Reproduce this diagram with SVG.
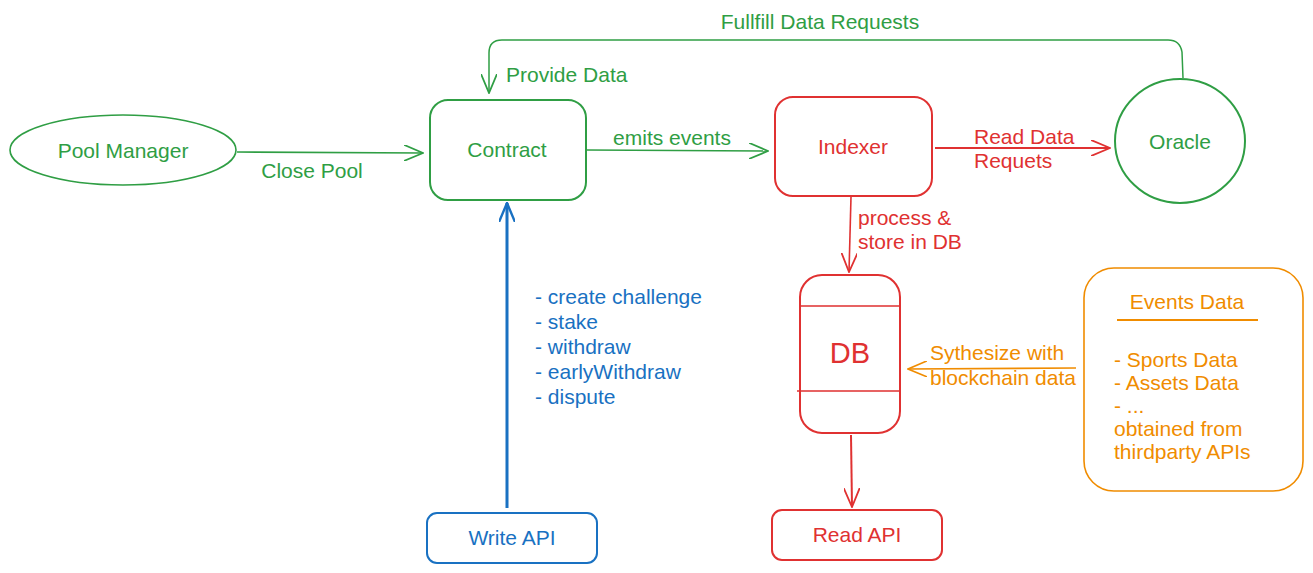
<svg xmlns="http://www.w3.org/2000/svg" width="1313" height="573" viewBox="0 0 1313 573">
<style>
text{font-family:"Liberation Sans",Arial,sans-serif;font-size:21px}
.g{fill:#2f9e44}.r{fill:#e03131}.b{fill:#1971c2}.o{fill:#f08c00}
.c{text-anchor:middle;dominant-baseline:central}
.sg{fill:none;stroke:#2f9e44;stroke-width:2}
.sr{fill:none;stroke:#e03131;stroke-width:2}
.sb{fill:none;stroke:#1971c2;stroke-width:2}
.so{fill:none;stroke:#f08c00;stroke-width:1.6}
</style>
<defs>
<marker id="ag" viewBox="0 0 20 16" refX="19" refY="8" markerWidth="20" markerHeight="16" markerUnits="userSpaceOnUse" orient="auto"><path d="M0,0 L19,8 L0,16" fill="none" stroke="#2f9e44" stroke-width="1.8"/></marker>
<marker id="ar" viewBox="0 0 20 16" refX="19" refY="8" markerWidth="20" markerHeight="16" markerUnits="userSpaceOnUse" orient="auto"><path d="M0,0 L19,8 L0,16" fill="none" stroke="#e03131" stroke-width="1.8"/></marker>
<marker id="ab" viewBox="0 0 20 16" refX="19" refY="8" markerWidth="20" markerHeight="16" markerUnits="userSpaceOnUse" orient="auto"><path d="M0,0 L19,8 L0,16" fill="none" stroke="#1971c2" stroke-width="2.4"/></marker>
<marker id="ao" viewBox="0 0 20 16" refX="19" refY="8" markerWidth="20" markerHeight="16" markerUnits="userSpaceOnUse" orient="auto"><path d="M0,0 L19,8 L0,16" fill="none" stroke="#f08c00" stroke-width="1.6"/></marker>
</defs>
<rect width="1313" height="573" fill="#ffffff"/>

<g id="connectors">
<path class="sg" style="stroke-width:1.6" d="M237,152 L423,153" marker-end="url(#ag)"/>
<text class="g c" x="312" y="170">Close Pool</text>
<path class="sg" style="stroke-width:1.6" d="M587,150 L768,151" marker-end="url(#ag)"/>
<text class="g c" x="672" y="137">emits events</text>
<path class="sr" style="stroke-width:1.8" d="M935,148 L1110,148" marker-end="url(#ar)"/>
<text class="r" x="974" y="144">Read Data</text>
<text class="r" x="974" y="168">Requets</text>
<path class="sg" style="stroke-width:1.5" d="M1183,78 L1182,52 Q1180,40 1168,40 L502,40 Q489,40 489,53 L489,93" marker-end="url(#ag)"/>
<text class="g c" x="820" y="21">Fullfill Data Requests</text>
<text class="g" x="506" y="82">Provide Data</text>
<path class="sr" style="stroke-width:1.6" d="M851,197 L849,272" marker-end="url(#ar)"/>
<text class="r" x="858" y="225">process &amp;</text>
<text class="r" x="858" y="249">store in DB</text>
<path class="sr" style="stroke-width:2" d="M851,435 L852,507" marker-end="url(#ar)"/>
<path class="sb" style="stroke-width:3" d="M507,508 L507,203" marker-end="url(#ab)"/>
<text class="b" x="535" y="304">- create challenge</text>
<text class="b" x="535" y="329">- stake</text>
<text class="b" x="535" y="354">- withdraw</text>
<text class="b" x="535" y="379">- earlyWithdraw</text>
<text class="b" x="535" y="404">- dispute</text>
<path class="so" d="M1076,368 L908,369" marker-end="url(#ao)"/>
<text class="o" x="930" y="360">Sythesize with</text>
<text class="o" x="930" y="385">blockchain data</text>
</g>

<g id="pool-manager">
<ellipse class="sg" style="stroke-width:1.6" cx="123" cy="150" rx="113" ry="35"/>
<text class="g c" x="123" y="150">Pool Manager</text>
</g>
<g id="contract">
<rect class="sg" x="430" y="100" width="156" height="100" rx="18"/>
<text class="g c" x="507" y="149">Contract</text>
</g>
<g id="indexer">
<rect class="sr" x="775" y="97" width="157" height="99" rx="18"/>
<text class="r c" x="853" y="146">Indexer</text>
</g>
<g id="oracle">
<ellipse class="sg" cx="1180" cy="141" rx="65" ry="62"/>
<text class="g c" x="1180" y="141">Oracle</text>
</g>
<g id="db">
<rect class="sr" x="800" y="275" width="100" height="158" rx="22"/>
<path class="sr" style="stroke-width:1.5" d="M800,306 L900,306 M797,391 L900,391"/>
<text class="r c" x="850" y="353" style="font-size:29px">DB</text>
</g>
<g id="read-api">
<rect class="sr" x="772" y="510" width="170" height="50" rx="10"/>
<text class="r c" x="857" y="534">Read API</text>
</g>
<g id="write-api">
<rect class="sb" x="427" y="513" width="170" height="50" rx="10"/>
<text class="b c" x="512" y="537">Write API</text>
</g>
<g id="events-data">
<rect class="so" x="1084" y="268" width="219" height="223" rx="30"/>
<text class="o c" x="1187" y="301">Events Data</text>
<path class="so" style="stroke-width:2" d="M1117,320 L1258,320"/>
<text class="o" x="1114" y="367">- Sports Data</text>
<text class="o" x="1114" y="390">- Assets Data</text>
<text class="o" x="1114" y="413">- ...</text>
<text class="o" x="1114" y="436">obtained from</text>
<text class="o" x="1114" y="459">thirdparty APIs</text>
</g>
</svg>
